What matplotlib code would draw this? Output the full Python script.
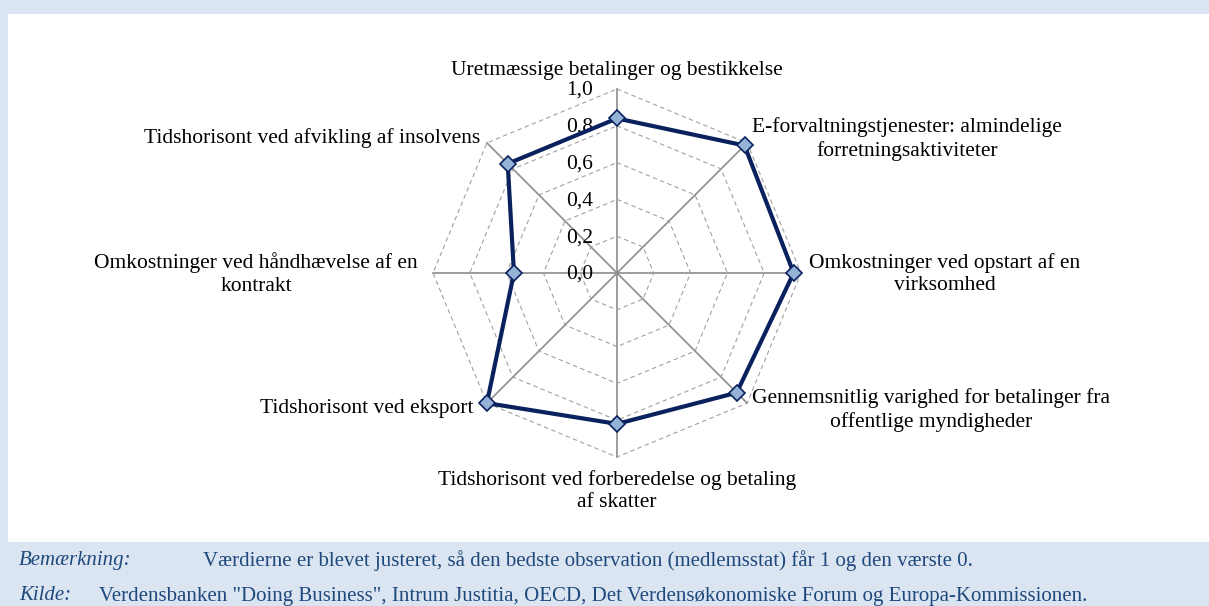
import numpy as np
import matplotlib
matplotlib.use("Agg")
import matplotlib.pyplot as plt

plt.rcParams["font.family"] = ["Liberation Serif", "DejaVu Serif"]

# indicators, clockwise from the top
indicators = [
    "Uretmæssige betalinger og bestikkelse",
    "E-forvaltningstjenester: almindelige\nforretningsaktiviteter",
    "Omkostninger ved opstart af en\nvirksomhed",
    "Gennemsnitlig varighed for betalinger fra\noffentlige myndigheder",
    "Tidshorisont ved forberedelse og betaling\naf skatter",
    "Tidshorisont ved eksport",
    "Omkostninger ved håndhævelse af en\nkontrakt",
    "Tidshorisont ved afvikling af insolvens",
]
scores = [0.84, 0.98, 0.96, 0.92, 0.82, 1.00, 0.56, 0.84]
rings = [0.2, 0.4, 0.6, 0.8, 1.0]
ring_labels = ["0,0", "0,2", "0,4", "0,6", "0,8", "1,0"]

note_head = "Bemærkning:"
note_text = "Værdierne er blevet justeret, så den bedste observation (medlemsstat) får 1 og den værste 0."
src_head = "Kilde:"
src_text = ('Verdensbanken "Doing Business", Intrum Justitia, OECD, Det Verdensøkonomiske '
            'Forum og Europa-Kommissionen.')

navy = "#0a215e"
band = "#dbe5f1"
txtblue = "#1f497d"

W, H = 1209, 606
fig = plt.figure(figsize=(W / 100, H / 100), dpi=100)
fig.patch.set_facecolor(band)

# white panel
fig.patches.append(plt.Rectangle((8 / W, (H - 542) / H), 1 - 8 / W, 528 / H,
                                 transform=fig.transFigure, facecolor="white",
                                 edgecolor="none", zorder=-5))

cx, cy, R = 617, 273, 184
ax = fig.add_axes([(cx - R) / W, (H - cy - R) / H, 2 * R / W, 2 * R / H])
ax.set_xlim(-1, 1)
ax.set_ylim(-1, 1)
ax.axis("off")

n = len(indicators)
ang = np.pi / 2 - 2 * np.pi * np.arange(n) / n
cosa, sina = np.cos(ang), np.sin(ang)

# spokes
for c, s in zip(cosa, sina):
    ax.plot([0, c], [0, s], color="#8c8c8c", lw=1.2, zorder=1, clip_on=False)

# dashed octagon rings
for r in rings:
    xs = np.append(r * cosa, r * cosa[0])
    ys = np.append(r * sina, r * sina[0])
    ax.plot(xs, ys, color="#a0a0a0", lw=0.8, ls=(0, (4, 3)), zorder=1, clip_on=False)

# ring labels
for i, lab in enumerate(ring_labels):
    ax.text(-24 / R, i * 0.2 - 1.5 / R, lab, ha="right", va="center", fontsize=15.5, zorder=2)

# data polygon
v = np.array(scores)
xs = np.append(v * cosa, v[0] * cosa[0])
ys = np.append(v * sina, v[0] * sina[0])
ax.plot(xs, ys, color=navy, lw=3, zorder=3, clip_on=False)
ax.plot(v * cosa, v * sina, ls="none", marker="D", markersize=8.5,
        markerfacecolor="#95b3d7", markeredgecolor=navy, markeredgewidth=1.2,
        zorder=4, clip_on=False)

# category labels (pixel positions relative to the centre)
pos = [
    (617, 70, "center"),
    (752, 139, "left"),
    (809, 274, "left"),
    (752, 410, "left"),
    (617, 491, "center"),
    (474, 409, "right"),
    (418, 274, "right"),
    (480, 138, "right"),
]
for lab, (px, py, ha) in zip(indicators, pos):
    ax.text((px - cx) / R, (cy - py) / R, lab, ha=ha, va="center", multialignment="center",
            fontsize=15.5, linespacing=1.25, zorder=2, clip_on=False)

# footer
fig.text(19 / W, 1 - 561 / H, note_head, style="italic", color=txtblue, fontsize=15, va="center")
fig.text(203 / W, 1 - 561 / H, note_text, color=txtblue, fontsize=15, va="center")
fig.text(19 / W, 1 - 596 / H, src_head, style="italic", color=txtblue, fontsize=15, va="center")
fig.text(99 / W, 1 - 596 / H, src_text, color=txtblue, fontsize=15, va="center")

fig.savefig("out.png", dpi=100, facecolor=fig.get_facecolor())
